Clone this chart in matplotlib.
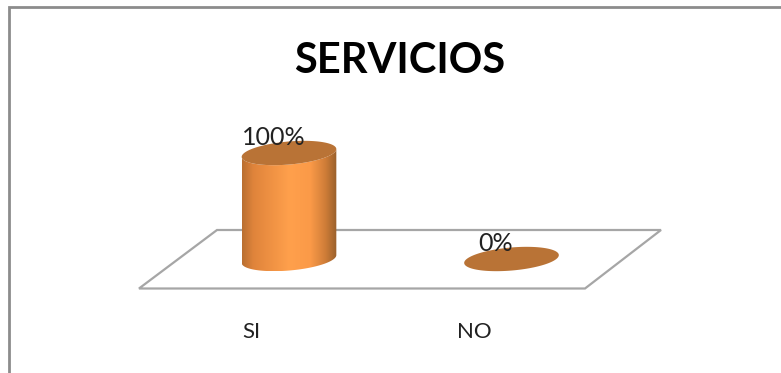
import numpy as np
import matplotlib
matplotlib.use('Agg')
import matplotlib.pyplot as plt
from matplotlib.patches import Polygon, PathPatch
from matplotlib.path import Path

# datos
categories = ['SI', 'NO']
values = [100, 0]
value_labels = ['100%', '0%']
title = 'SERVICIOS'

W, H = 781, 373
plt.rcParams['font.family'] = ['Lato', 'DejaVu Sans']

# escala: categoria 0 en x=289px, categoria 1 en x=511.5px, 0% en y=259px, 100% en y=153px
px_cat = 222.5
px_val = 1.06
x0, y0 = 289, 259

fig = plt.figure(figsize=(W / 100, H / 100), dpi=100, facecolor='white')
ax = fig.add_axes([0, 0, 1, 1])
ax.axis('off')


# pasar de pixeles de la imagen a datos (solo para decoracion)
def pxy(px, py):
    return (px - x0) / px_cat, (y0 - py) / px_val


# marco del grafico
ax.plot(*zip(pxy(9, 373), pxy(9, 7), pxy(781, 7)), color='#8c8c8c', lw=2, solid_joinstyle='miter')

# piso
floor = [pxy(139, 288.5), pxy(585, 288.5), pxy(661, 230), pxy(217, 230)]
ax.add_patch(Polygon(floor, closed=True, fc='white', ec='#a6a6a6', lw=1.6, zorder=1))


# elipse inclinada, rx y ry en pixeles
def ellipse(cx, val, t):
    rx, ry, a = 47.5, 11.5, np.radians(5)
    dx = rx * np.cos(t) * np.cos(a) - ry * np.sin(t) * np.sin(a)
    dy = rx * np.cos(t) * np.sin(a) + ry * np.sin(t) * np.cos(a)
    return cx + dx / px_cat, val + dy / px_val


grad_x = [0.0, 0.12, 0.5, 0.72, 0.88, 1.0]
grad_c = ['#b96f31', '#e0843b', '#ffa04c', '#fb9a48', '#cf7d38', '#99602c']
rgb = np.array([matplotlib.colors.to_rgb(c) for c in grad_c])
xs = np.linspace(0, 1, 200)
grad = np.stack([np.interp(xs, grad_x, rgb[:, i]) for i in range(3)], axis=1)[None, :, :]

t_all = np.linspace(0, 2 * np.pi, 120)
for i, (cat, val, lab) in enumerate(zip(categories, values, value_labels)):
    if val > 0:
        # cuerpo del cilindro con degradado
        t_low = np.linspace(np.pi, 2 * np.pi, 60)
        bx, by = ellipse(i, 0, t_low)
        tx, ty = ellipse(i, val, t_low[::-1])
        body = np.column_stack([np.r_[bx, tx], np.r_[by, ty]])
        clip = PathPatch(Path(np.vstack([body, body[0]])), transform=ax.transData, fc='none', ec='none')
        ax.add_patch(clip)
        im = ax.imshow(grad, extent=[bx.min(), bx.max(), by.min(), ty.max()], aspect='auto', zorder=2)
        im.set_clip_path(clip)
    ex, ey = ellipse(i, val, t_all)
    ax.fill(ex, ey, color='#b97336', lw=0, zorder=3)
    ax.text(i - 0.07, val + 14.5, lab, ha='center', va='center', fontsize=18, color='#222222', zorder=4)
    ax.text(i - 0.168, -69, cat, ha='center', va='center', fontsize=16, color='#222222', zorder=4)

ax.text(*pxy(400, 61), title, ha='center', va='center', fontsize=30, fontweight='bold', color='black')

ax.set_xlim(-x0 / px_cat, (W - x0) / px_cat)
ax.set_ylim((y0 - H) / px_val, y0 / px_val)
fig.savefig('out.png', dpi=100)
